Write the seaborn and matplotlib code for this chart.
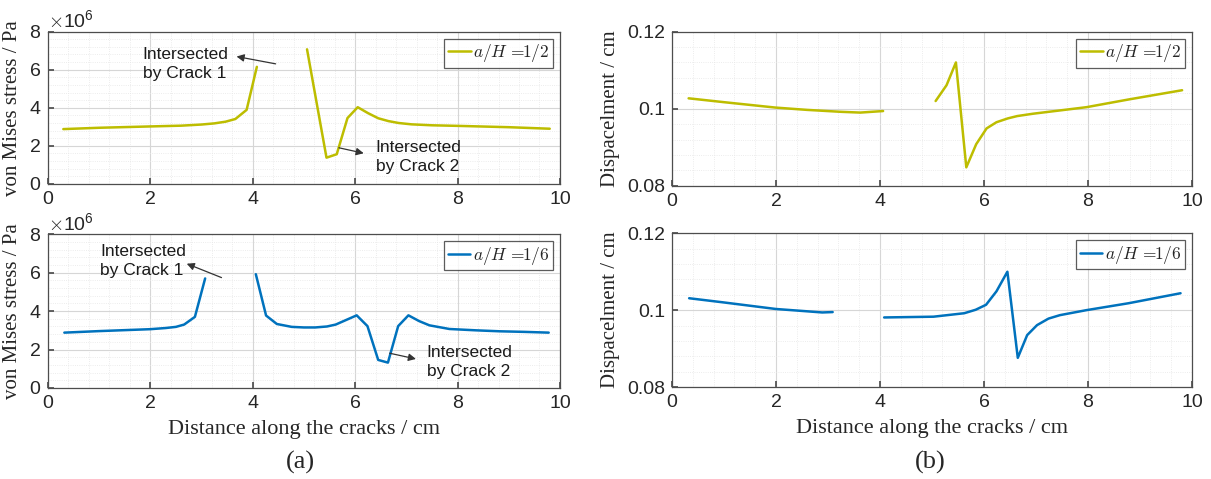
import numpy as np
import pandas as pd
import matplotlib
matplotlib.use("Agg")
import matplotlib.pyplot as plt
from matplotlib.lines import Line2D
from matplotlib.ticker import MultipleLocator, AutoMinorLocator, ScalarFormatter, FixedLocator, FixedFormatter
import seaborn as sns

# ---- von Mises stress (units of 1e6 Pa), a/H = 1/2 ----
stress_h2_x1 = [0.3, 1.0, 2.0, 2.6, 3.0, 3.25, 3.47, 3.66, 3.88, 4.08]
stress_h2_y1 = [2.88, 2.95, 3.02, 3.06, 3.12, 3.18, 3.27, 3.41, 3.89, 6.15]
stress_h2_x2 = [5.06, 5.44, 5.64, 5.85, 6.05, 6.25, 6.45, 6.65, 6.85, 7.1, 7.5, 8.0, 9.0, 9.8]
stress_h2_y2 = [7.07, 1.38, 1.56, 3.46, 4.03, 3.72, 3.45, 3.30, 3.20, 3.13, 3.08, 3.05, 2.98, 2.90]

# ---- von Mises stress (units of 1e6 Pa), a/H = 1/6 ----
stress_h6_x1 = [0.32, 1.0, 2.0, 2.3, 2.5, 2.66, 2.87, 3.07]
stress_h6_y1 = [2.88, 2.96, 3.06, 3.12, 3.18, 3.30, 3.70, 5.70]
stress_h6_x2 = [4.06, 4.26, 4.47, 4.76, 5.0, 5.22, 5.45, 5.62, 6.03, 6.24, 6.45, 6.64,
                6.84, 7.04, 7.25, 7.45, 7.84, 8.36, 8.82, 9.3, 9.78]
stress_h6_y2 = [5.92, 3.77, 3.33, 3.18, 3.15, 3.15, 3.20, 3.30, 3.78, 3.22, 1.46, 1.32,
                3.22, 3.78, 3.48, 3.26, 3.07, 3.00, 2.95, 2.92, 2.88]

# ---- displacement (cm), a/H = 1/2 ----
disp_h2_x1 = [0.32, 1.0, 1.99, 2.6, 3.25, 3.62, 4.06]
disp_h2_y1 = [0.1027, 0.1017, 0.1003, 0.0997, 0.0992, 0.0990, 0.0994]
disp_h2_x2 = [5.07, 5.28, 5.46, 5.66, 5.85, 6.05, 6.24, 6.46, 6.64, 6.94, 7.97, 8.78, 9.81]
disp_h2_y2 = [0.1020, 0.1061, 0.1120, 0.0848, 0.0908, 0.0949, 0.0965, 0.0975, 0.0981,
              0.0987, 0.1004, 0.1024, 0.1048]

# ---- displacement (cm), a/H = 1/6 ----
disp_h6_x1 = [0.33, 1.0, 2.0, 2.5, 2.89, 3.09]
disp_h6_y1 = [0.1031, 0.1020, 0.1003, 0.0998, 0.0994, 0.0995]
disp_h6_x2 = [4.08, 5.03, 5.62, 5.84, 6.04, 6.24, 6.45, 6.65, 6.83, 7.02, 7.24, 7.46,
              7.97, 8.78, 9.78]
disp_h6_y2 = [0.0981, 0.0983, 0.0992, 0.1001, 0.1014, 0.1049, 0.1100, 0.0876, 0.0935,
              0.0961, 0.0978, 0.0987, 0.1000, 0.1018, 0.1044]

legend_labels = [r"$a/H\, =\!\!1/2$", r"$a/H\, =\!\!1/6$"]
colors = ["#bdbd00", "#0072bd"]

sns.set_theme(style="white")
plt.rcParams["font.family"] = ["Liberation Sans", "DejaVu Sans"]
plt.rcParams["mathtext.fontset"] = "cm"

serif = ["Liberation Serif", "DejaVu Serif"]


def frame(x1, y1, x2, y2, scale=1.0):
    a = pd.DataFrame({"x": x1, "y": np.array(y1) * scale, "seg": 0})
    b = pd.DataFrame({"x": x2, "y": np.array(y2) * scale, "seg": 1})
    return pd.concat([a, b], ignore_index=True)


def style_axes(ax, ymin, ymax, ystep):
    ax.set_xlim(0, 10)
    ax.set_ylim(ymin, ymax)
    ax.xaxis.set_major_locator(MultipleLocator(2))
    ax.yaxis.set_major_locator(MultipleLocator(ystep))
    ax.xaxis.set_minor_locator(AutoMinorLocator(5))
    ax.yaxis.set_minor_locator(AutoMinorLocator(5))
    ax.grid(which="major", color="#d6d6d6", linewidth=0.8)
    ax.grid(which="minor", color="#e6e6e6", linewidth=0.6, linestyle=":")
    ax.set_axisbelow(True)
    for s in ax.spines.values():
        s.set_color("#4d4d4d")
        s.set_linewidth(0.9)
    ax.tick_params(axis="both", which="major", direction="in", length=4,
                   color="#4d4d4d", labelsize=14, pad=5, bottom=True, left=True)
    ax.tick_params(axis="both", which="minor", length=0)
    ax.set_xlabel("")
    ax.set_ylabel("")


def add_legend(ax, label, color):
    h = Line2D([0], [0], color=color, linewidth=1.8)
    leg = ax.legend([h], [label], loc="upper right", fontsize=12.5,
                    frameon=True, fancybox=False, handlelength=1.3,
                    handletextpad=0.15, borderpad=0.2, borderaxespad=0.4)
    leg.get_frame().set_edgecolor("#333333")
    leg.get_frame().set_linewidth(0.9)


def annotate(ax, text, text_xy, tail, head):
    ax.text(text_xy[0], text_xy[1], text, fontsize=12.5, ha="left", va="center",
            linespacing=1.35, color="#1a1a1a")
    ax.annotate("", xy=head, xytext=tail,
                arrowprops=dict(arrowstyle="-|>", color="#333333", lw=0.9,
                                mutation_scale=11))


fig = plt.figure(figsize=(12.11, 4.79), dpi=100)
ax1 = fig.add_axes([0.0396, 0.616, 0.4228, 0.318])
ax3 = fig.add_axes([0.0396, 0.190, 0.4228, 0.321])
ax2 = fig.add_axes([0.5549, 0.612, 0.4294, 0.322])
ax4 = fig.add_axes([0.5549, 0.192, 0.4294, 0.321])

# stress panels
for ax, data, col, lab in [
    (ax1, frame(stress_h2_x1, stress_h2_y1, stress_h2_x2, stress_h2_y2, 1e6), colors[0], legend_labels[0]),
    (ax3, frame(stress_h6_x1, stress_h6_y1, stress_h6_x2, stress_h6_y2, 1e6), colors[1], legend_labels[1]),
]:
    sns.lineplot(data=data, x="x", y="y", units="seg", estimator=None,
                 color=col, linewidth=1.8, ax=ax, legend=False)
    style_axes(ax, 0, 8e6, 2e6)
    fmt = ScalarFormatter(useMathText=True)
    fmt.set_powerlimits((0, 0))
    ax.yaxis.set_major_formatter(fmt)
    ax.yaxis.get_offset_text().set_fontsize(14)
    ax.set_ylabel("von Mises stress / Pa", fontsize=15, family=serif, labelpad=5)
    add_legend(ax, lab, col)

# displacement panels
for ax, data, col, lab in [
    (ax2, frame(disp_h2_x1, disp_h2_y1, disp_h2_x2, disp_h2_y2), colors[0], legend_labels[0]),
    (ax4, frame(disp_h6_x1, disp_h6_y1, disp_h6_x2, disp_h6_y2), colors[1], legend_labels[1]),
]:
    sns.lineplot(data=data, x="x", y="y", units="seg", estimator=None,
                 color=col, linewidth=1.8, ax=ax, legend=False)
    style_axes(ax, 0.08, 0.12, 0.02)
    ax.yaxis.set_major_locator(FixedLocator([0.08, 0.10, 0.12]))
    ax.yaxis.set_major_formatter(FixedFormatter(["0.08", "0.1", "0.12"]))
    ax.set_ylabel("Dispacelment / cm", fontsize=15, family=serif, labelpad=5)
    add_legend(ax, lab, col)

for ax in (ax3, ax4):
    ax.set_xlabel("Distance along the cracks / cm", fontsize=16, family=serif, labelpad=6)

# crack annotations
annotate(ax1, "Intersected\nby Crack 1", (1.85, 6.3e6), (4.5, 6.28e6), (3.63, 6.72e6))
annotate(ax1, "Intersected\nby Crack 2", (6.4, 1.42e6), (5.63, 1.93e6), (6.22, 1.58e6))
annotate(ax3, "Intersected\nby Crack 1", (1.02, 6.62e6), (3.44, 5.69e6), (2.66, 6.52e6))
annotate(ax3, "Intersected\nby Crack 2", (7.4, 1.37e6), (6.62, 1.84e6), (7.24, 1.48e6))

fig.text(0.248, 0.034, "(a)", fontsize=19, family=serif, ha="center", va="center")
fig.text(0.768, 0.034, "(b)", fontsize=19, family=serif, ha="center", va="center")

fig.savefig("out.png", dpi=100)
